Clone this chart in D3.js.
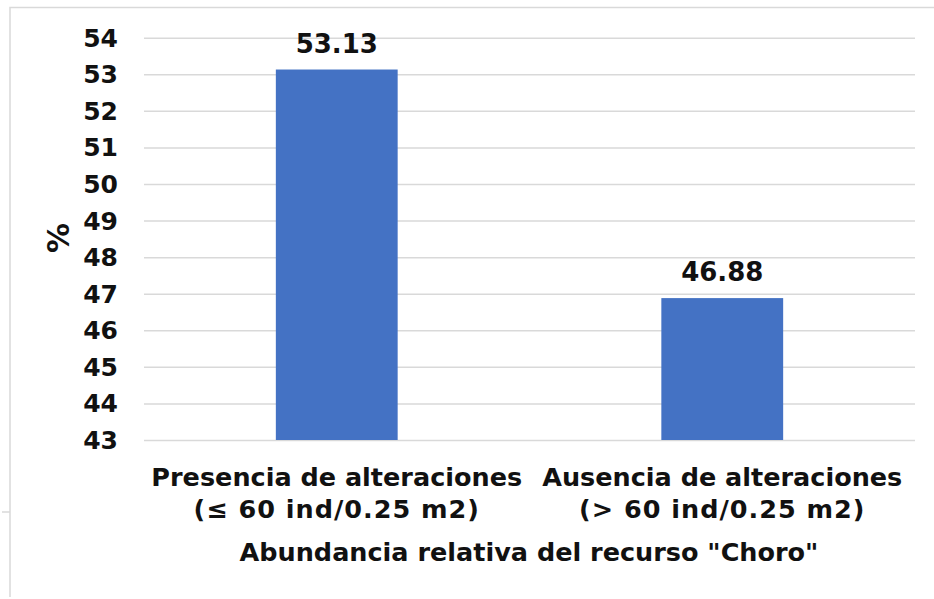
<!DOCTYPE html>
<html>
<head>
<meta charset="utf-8">
<script src="https://cdn.jsdelivr.net/npm/d3@7"></script>
<style>
  body { margin: 0; background: #fff; }
  svg text { font-family: "DejaVu Sans", Verdana, sans-serif; font-weight: bold; fill: #111; }
  .grid line { stroke: #d9d9d9; stroke-width: 1.5; }
  .grid path { display: none; }
</style>
</head>
<body>
<div class="chart"></div>
<script>
const categories = ["Presencia de alteraciones", "Ausencia de alteraciones"]
const categorySub = ["(\u2264 60 ind/0.25 m2)", "(> 60 ind/0.25 m2)"]
const values = [53.13, 46.88]
const yTicks = [43, 44, 45, 46, 47, 48, 49, 50, 51, 52, 53, 54]

const width = 934, height = 599
const margin = {top: 37.7, right: 19, bottom: 159, left: 144}

let svg = d3.select(".chart").append("svg")
  .attr("width", width)
  .attr("height", height)

// outer frame
svg.append("path")
  .attr("d", "M10,597 L10,7.5 L934,7.5")
  .attr("fill", "none")
  .attr("stroke", "#d9d9d9")
  .attr("stroke-width", 1.5)
svg.append("line")
  .attr("x1", 2).attr("x2", 10).attr("y1", 512).attr("y2", 512)
  .attr("stroke", "#d9d9d9").attr("stroke-width", 1.5)

let x = d3.scaleBand()
  .domain(categories)
  .range([margin.left, width - margin.right])
  .paddingInner(0.684)
  .paddingOuter(0.342)

let y = d3.scaleLinear()
  .domain([43, 54])
  .range([height - margin.bottom, margin.top])

// gridlines
svg.append("g")
  .attr("class", "grid")
  .attr("transform", "translate(" + margin.left + ",0)")
  .call(d3.axisLeft(y).tickValues(yTicks).tickSize(-(width - margin.right - margin.left)).tickFormat(""))

// y tick labels
svg.append("g")
  .selectAll("text")
  .data(yTicks)
  .enter().append("text")
  .attr("x", 118)
  .attr("y", d => y(d))
  .attr("dy", "0.36em")
  .attr("text-anchor", "end")
  .style("font-size", "25px")
  .text(d => d)

// bars
svg.append("g")
  .selectAll("rect")
  .data(values)
  .enter().append("rect")
  .attr("x", (d, i) => x(categories[i]))
  .attr("width", x.bandwidth())
  .attr("y", d => y(d))
  .attr("height", d => y(43) - y(d))
  .attr("fill", "#4472c4")

// value labels
svg.append("g")
  .selectAll("text")
  .data(values)
  .enter().append("text")
  .attr("x", (d, i) => x(categories[i]) + x.bandwidth() / 2)
  .attr("y", d => y(d) - 17)
  .attr("text-anchor", "middle")
  .style("font-size", "26px")
  .text(d => d.toFixed(2))

// category labels
let cat = svg.append("g")
  .selectAll("text")
  .data(categories)
  .enter().append("text")
  .attr("x", d => x(d) + x.bandwidth() / 2)
  .attr("y", 486)
  .attr("text-anchor", "middle")
  .style("font-size", "25.5px")
cat.append("tspan")
  .attr("x", d => x(d) + x.bandwidth() / 2)
  .text(d => d)
cat.append("tspan")
  .attr("x", d => x(d) + x.bandwidth() / 2)
  .attr("dy", 32)
  .style("letter-spacing", "1px")
  .text((d, i) => categorySub[i])

// axis titles
svg.append("text")
  .attr("x", 529)
  .attr("y", 561)
  .attr("text-anchor", "middle")
  .style("font-size", "25.5px")
  .text('Abundancia relativa del recurso "Choro"')

svg.append("text")
  .attr("transform", "translate(69,238) rotate(-90)")
  .attr("text-anchor", "middle")
  .style("font-size", "30px")
  .text("%")
</script>
</body>
</html>
